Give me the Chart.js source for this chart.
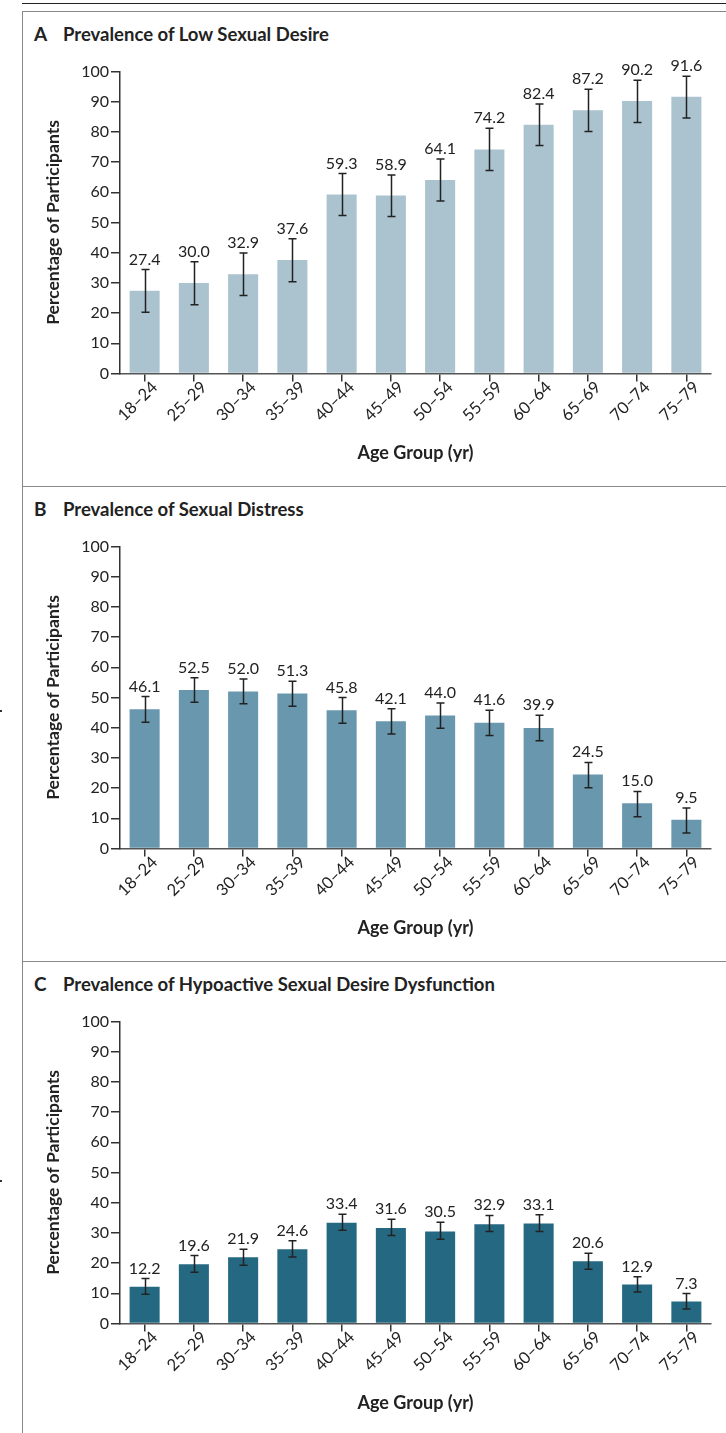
<!DOCTYPE html>
<html>
<head>
<meta charset="utf-8">
<script src="https://cdn.jsdelivr.net/npm/chart.js@4.4.0/dist/chart.umd.min.js"></script>
<style>
	body { margin: 0; background: #fff; width: 726px; height: 1433px; position: relative; overflow: hidden; font-family: Lato, sans-serif; }
	.rule { position: absolute; left: 22px; right: 0; top: 3px; border-top: 1.5px solid #222; }
	.panel { position: absolute; left: 22px; width: 704px; height: 475px; box-sizing: border-box; border-top: 1.5px solid #888; border-left: 1.5px solid #888; }
	.panel.last { height: 472px; }
	.title { position: absolute; top: 11px; left: 0; margin: 0; font-size: 18.5px; line-height: 22px; font-weight: bold; color: #222; white-space: nowrap; }
	.title .letter { position: absolute; left: 11px; font-size: 19px; }
	.title .text { position: absolute; left: 40px; }
	.box { position: absolute; left: 0; width: 726px; height: 474px; }
	.dot { position: absolute; left: 0; width: 2px; height: 2px; background: #333; }
</style>
</head>
<body>
<div class="rule"></div>

<div class="panel" style="top:11px"><div class="title"><span class="letter">A</span><span class="text">Prevalence of Low Sexual Desire</span></div></div>
<div class="panel" style="top:486px"><div class="title"><span class="letter">B</span><span class="text">Prevalence of Sexual Distress</span></div></div>
<div class="panel last" style="top:961px"><div class="title"><span class="letter">C</span><span class="text">Prevalence of Hypoactive Sexual Desire Dysfunction</span></div></div>

<div class="dot" style="top:710px"></div>
<div class="dot" style="top:1180px"></div>

<div class="box" style="top:12px"><canvas id="chartA" width="726" height="474"></canvas></div>
<div class="box" style="top:487px"><canvas id="chartB" width="726" height="474"></canvas></div>
<div class="box" style="top:962px"><canvas id="chartC" width="726" height="474"></canvas></div>

<script>
(() => {
	'use strict'

	// Data
	const ageGroups = ['18–24', '25–29', '30–34', '35–39', '40–44', '45–49', '50–54', '55–59', '60–64', '65–69', '70–74', '75–79'];

	const lowDesire = [27.4, 30.0, 32.9, 37.6, 59.3, 58.9, 64.1, 74.2, 82.4, 87.2, 90.2, 91.6];
	const lowDesireLow = [20.3, 22.8, 25.8, 30.4, 52.3, 52.0, 57.1, 67.2, 75.5, 80.1, 83.1, 84.6];
	const lowDesireHigh = [34.4, 37.0, 39.9, 44.6, 66.2, 65.7, 71.0, 81.2, 89.2, 94.1, 97.1, 98.4];

	const distress = [46.1, 52.5, 52.0, 51.3, 45.8, 42.1, 44.0, 41.6, 39.9, 24.5, 15.0, 9.5];
	const distressLow = [41.8, 48.4, 47.9, 47.1, 41.5, 37.9, 39.8, 37.4, 35.7, 20.1, 10.5, 5.1];
	const distressHigh = [50.3, 56.5, 56.1, 55.4, 50.0, 46.3, 48.2, 45.8, 44.1, 28.5, 18.9, 13.4];

	const hsdd = [12.2, 19.6, 21.9, 24.6, 33.4, 31.6, 30.5, 32.9, 33.1, 20.6, 12.9, 7.3];
	const hsddLow = [9.7, 17.0, 19.3, 22.0, 30.9, 29.1, 27.9, 30.5, 30.5, 18.0, 10.4, 4.8];
	const hsddHigh = [14.9, 22.5, 24.6, 27.4, 36.2, 34.5, 33.5, 35.8, 36.0, 23.3, 15.5, 9.9];

	const yMin = 0;
	const yMax = 100;
	const yStep = 10;

	const textColor = '#222';
	const lineColor = '#333';
	const fontFamily = 'Lato, sans-serif';

	// Error bars + value labels above them
	const errorBarPlugin = {
		id: 'errorBars',
		afterDatasetsDraw(chart, args, opts) {
			const { ctx, scales: { y } } = chart;
			const meta = chart.getDatasetMeta(0);
			const values = chart.data.datasets[0].data;
			ctx.save();
			ctx.strokeStyle = '#222';
			ctx.lineWidth = 1.5;
			ctx.fillStyle = textColor;
			ctx.font = '16px ' + fontFamily;
			ctx.textAlign = 'center';
			ctx.textBaseline = 'alphabetic';
			meta.data.forEach((bar, i) => {
				const x = Math.round(bar.x) + 0.5;
				const top = y.getPixelForValue(opts.high[i]);
				const bottom = y.getPixelForValue(opts.low[i]);
				ctx.beginPath();
				ctx.moveTo(x, top);
				ctx.lineTo(x, bottom);
				ctx.moveTo(x - 4, top);
				ctx.lineTo(x + 4, top);
				ctx.moveTo(x - 4, bottom);
				ctx.lineTo(x + 4, bottom);
				ctx.stroke();
				ctx.fillText(values[i].toFixed(1), bar.x, top - 5);
			});
			ctx.restore();
		}
	};

	function makeChart(id, values, low, high, color) {
		const config = {
			type: 'bar',
			data: {
				labels: ageGroups,
				datasets: [{
					data: values,
					backgroundColor: color,
					borderWidth: 0,
					barPercentage: 0.61,
					categoryPercentage: 1.0
				}]
			},
			options: {
				responsive: false,
				animation: false,
				events: [],
				layout: {
					padding: { top: 59.5, right: 15, bottom: 22.5, left: 0 }
				},
				plugins: {
					legend: { display: false },
					title: { display: false },
					tooltip: { enabled: false },
					errorBars: { low: low, high: high }
				},
				scales: {
					x: {
						afterFit(scale) { scale.height = 90; },
						grid: {
							offset: false,
							drawOnChartArea: false,
							drawTicks: true,
							tickLength: 8,
							color: lineColor,
							lineWidth: 1.5
						},
						border: { display: true, color: '#555', width: 1.5 },
						ticks: {
							autoSkip: false,
							minRotation: 45,
							maxRotation: 45,
							padding: -4,
							labelOffset: 10,
							color: textColor,
							font: { family: fontFamily, size: 16.5 }
						},
						title: {
							display: true,
							text: 'Age Group (yr)',
							color: textColor,
							padding: 0,
							font: { family: fontFamily, size: 18, weight: 'bold' }
						}
					},
					y: {
						min: yMin,
						max: yMax,
						afterFit(scale) { scale.width = 120; },
						grid: {
							drawOnChartArea: false,
							drawTicks: true,
							tickLength: 9,
							color: lineColor,
							lineWidth: 1.5
						},
						border: { display: true, color: lineColor, width: 1.5 },
						ticks: {
							stepSize: yStep,
							padding: 2,
							color: textColor,
							font: { family: fontFamily, size: 16 }
						},
						title: {
							display: true,
							text: 'Percentage of Participants',
							color: textColor,
							padding: { top: 43, bottom: 0 },
							font: { family: fontFamily, size: 17.5, weight: 'bold' }
						}
					}
				}
			},
			plugins: [errorBarPlugin]
		};
		return new Chart(document.getElementById(id), config);
	}

	makeChart('chartA', lowDesire, lowDesireLow, lowDesireHigh, '#aac3cf');
	makeChart('chartB', distress, distressLow, distressHigh, '#6897ae');
	makeChart('chartC', hsdd, hsddLow, hsddHigh, '#246882');
})()
</script>
</body>
</html>
